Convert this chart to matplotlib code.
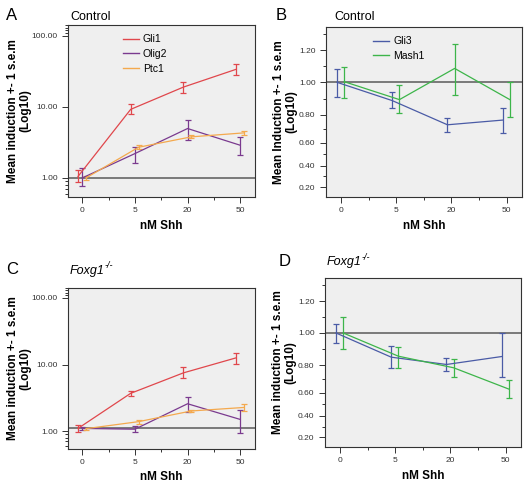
import numpy as np
import matplotlib.pyplot as plt
from matplotlib.lines import Line2D
from matplotlib.ticker import FixedLocator, NullFormatter

plt.rcParams['font.family'] = ['Liberation Sans', 'DejaVu Sans']

doses = ['0', '5', '20', '50']

# panel A (Control, log axis)
a_gli1 = [1.05, 9.2, 18.9, 33.6]
a_gli1_lo = [0.87, 8.0, 15.4, 28.2]
a_gli1_hi = [1.30, 10.8, 22.2, 39.4]
a_olig2 = [1.0, 2.2, 4.95, 2.88]
a_olig2_lo = [0.76, 1.63, 3.4, 2.13]
a_olig2_hi = [1.38, 2.73, 6.5, 3.78]
a_ptc1 = [1.0, 2.7, 3.78, 4.3]
a_ptc1_lo = [0.95, 2.56, 3.6, 4.0]
a_ptc1_hi = [1.05, 2.88, 3.95, 4.6]

# panel C (Foxg1-/-, log axis)
c_gli1 = [1.10, 3.7, 7.5, 12.6]
c_gli1_lo = [0.97, 3.4, 6.3, 10.2]
c_gli1_hi = [1.23, 4.0, 9.1, 14.8]
c_olig2 = [1.10, 1.07, 2.58, 1.5]
c_olig2_lo = [1.05, 0.96, 1.97, 0.95]
c_olig2_hi = [1.15, 1.2, 3.28, 2.08]
c_ptc1 = [1.09, 1.39, 2.01, 2.27]
c_ptc1_lo = [1.05, 1.30, 1.92, 2.03]
c_ptc1_hi = [1.13, 1.47, 2.10, 2.53]

# panel B (Control)
b_gli3 = [1.0, 0.888, 0.729, 0.763]
b_gli3_lo = [0.908, 0.843, 0.68, 0.673]
b_gli3_hi = [1.082, 0.943, 0.778, 0.843]
b_mash1 = [1.004, 0.894, 1.087, 0.894]
b_mash1_lo = [0.902, 0.813, 0.922, 0.783]
b_mash1_hi = [1.093, 0.984, 1.237, 1.0]

# panel D (Foxg1-/-)
d_gli3 = [1.0, 0.851, 0.806, 0.855]
d_gli3_lo = [0.939, 0.779, 0.76, 0.719]
d_gli3_hi = [1.057, 0.922, 0.845, 1.0]
d_mash1 = [1.0, 0.857, 0.783, 0.628]
d_mash1_lo = [0.902, 0.783, 0.719, 0.554]
d_mash1_hi = [1.101, 0.912, 0.841, 0.695]

red = '#e0474c'
purple = '#7a3a8f'
orange = '#f4a94e'
blue = '#4a5ba6'
green = '#3db54a'
bg = '#efefef'

# the right-hand axes are not linear: tick values -> positions
lin_vals = [0.0, 0.2, 0.4, 0.6, 0.8, 1.0, 1.2, 1.5]
lin_pos = [-65, 0, 65, 134, 217, 315, 411, 556]


def fwd(v):
    return np.interp(v, lin_vals, lin_pos)


def inv(p):
    return np.interp(p, lin_pos, lin_vals)


W, H = 527, 492
fig = plt.figure(figsize=(W / 100, H / 100), dpi=100)


def box(l, t, r, b):
    return [l / W, 1 - b / H, (r - l) / W, (b - t) / H]


def series(ax, x, y, lo, hi, color):
    y = np.array(y)
    err = [y - np.array(lo), np.array(hi) - y]
    ax.errorbar(x, y, yerr=err, color=color, lw=0.9, elinewidth=0.9,
                capsize=2, capthick=0.9)


def add_legend(ax, names, colors, x0):
    handles = [Line2D([], [], color=c, lw=1.0) for c in colors]
    ax.legend(handles, names, loc='upper left', bbox_to_anchor=(x0, 1.0),
              frameon=False, fontsize=7.5, handlelength=1.5, handletextpad=0.4,
              labelspacing=0.45)


def style(ax, ylabel, label_x):
    ax.set_facecolor(bg)
    for s in ax.spines.values():
        s.set_color('#333333')
        s.set_linewidth(0.8)
    ax.set_xlim(-0.27, 3.28)
    ax.set_xticks(range(4))
    ax.set_xticklabels(doses)
    ax.xaxis.set_minor_locator(FixedLocator([0.5, 1.5, 2.5]))
    ax.tick_params(axis='both', which='major', labelsize=6, length=4,
                   width=0.7, colors='#333333', labelcolor='#333333')
    ax.tick_params(axis='both', which='minor', length=2.5, width=0.7,
                   colors='#333333')
    ax.set_xlabel('nM Shh', fontsize=8.5, fontweight='bold')
    ax.xaxis.set_label_coords(0.5, -0.135)
    ax.set_ylabel(ylabel, fontsize=8.5, fontweight='bold', linespacing=1.0)
    ax.yaxis.set_label_coords(label_x, 0.5)


def log_panel(ax, g, o, p, line_y, legend):
    xs = np.arange(4)
    series(ax, xs - 0.08, *g, red)
    series(ax, xs, *o, purple)
    series(ax, xs + 0.07, *p, orange)
    ax.set_yscale('log')
    ax.set_ylim(0.54, 141)
    ax.yaxis.set_major_locator(FixedLocator([1, 10, 100]))
    ax.set_yticklabels(['1.00', '10.00', '100.00'])
    ax.yaxis.set_minor_locator(FixedLocator([0.6, 0.7, 0.8, 0.9, 110, 120, 130, 140]))
    ax.yaxis.set_minor_formatter(NullFormatter())
    ax.axhline(line_y, color='#666666', lw=1.2, zorder=1)
    style(ax, 'Mean induction +- 1 s.e.m\n(Log10)', -0.198)
    if legend:
        add_legend(ax, ['Gli1', 'Olig2', 'Ptc1'], [red, purple, orange], 0.245)


def lin_panel(ax, g, m, ylabel, legend):
    xs = np.arange(4)
    series(ax, xs - 0.07, *g, blue)
    series(ax, xs + 0.06, *m, green)
    ax.set_yscale('function', functions=(fwd, inv))
    ax.set_ylim(0.11, 1.345)
    ax.yaxis.set_major_locator(FixedLocator([0.2, 0.4, 0.6, 0.8, 1.0, 1.2]))
    ax.set_yticklabels(['0.20', '0.40', '0.60', '0.80', '1.00', '1.20'])
    ax.yaxis.set_minor_locator(FixedLocator([0.3, 0.5, 0.7, 0.9, 1.1, 1.3]))
    ax.yaxis.set_minor_formatter(NullFormatter())
    ax.axhline(1.0, color='#666666', lw=1.2, zorder=1)
    style(ax, ylabel, -0.148)
    if legend:
        add_legend(ax, ['Gli3', 'Mash1'], [blue, green], 0.194)


axA = fig.add_axes(box(68, 25, 255, 197))
log_panel(axA, (a_gli1, a_gli1_lo, a_gli1_hi), (a_olig2, a_olig2_lo, a_olig2_hi),
          (a_ptc1, a_ptc1_lo, a_ptc1_hi), 1.0, True)

axB = fig.add_axes(box(326, 27, 522, 197))
lin_panel(axB, (b_gli3, b_gli3_lo, b_gli3_hi), (b_mash1, b_mash1_lo, b_mash1_hi),
          'Mean Induction +- 1 s.e.m\n(Log10)', True)

axC = fig.add_axes(box(68, 288, 255, 449))
log_panel(axC, (c_gli1, c_gli1_lo, c_gli1_hi), (c_olig2, c_olig2_lo, c_olig2_hi),
          (c_ptc1, c_ptc1_lo, c_ptc1_hi), 1.10, False)

axD = fig.add_axes(box(325, 278, 521, 447))
lin_panel(axD, (d_gli3, d_gli3_lo, d_gli3_hi), (d_mash1, d_mash1_lo, d_mash1_hi),
          'Mean induction +- 1 s.e.m\n(Log10)', False)

# panel letters and titles
for letter, x, y in [('A', 6, 16), ('B', 276, 16), ('C', 6, 270), ('D', 279, 262)]:
    fig.text(x / W, 1 - y / H, letter, fontsize=12, va='center', ha='left')
fig.text(70 / W, 1 - 17 / H, 'Control', fontsize=9, va='center')
fig.text(334 / W, 1 - 17 / H, 'Control', fontsize=9, va='center')
for x, y in [(70, 271), (327, 262)]:
    fig.text(x / W, 1 - y / H, 'Foxg1', fontsize=9, style='italic', va='center')
    fig.text((x + 35) / W, 1 - (y - 5) / H, '-/-', fontsize=6.5, style='italic',
             va='center')

fig.savefig('out.png', dpi=100)
